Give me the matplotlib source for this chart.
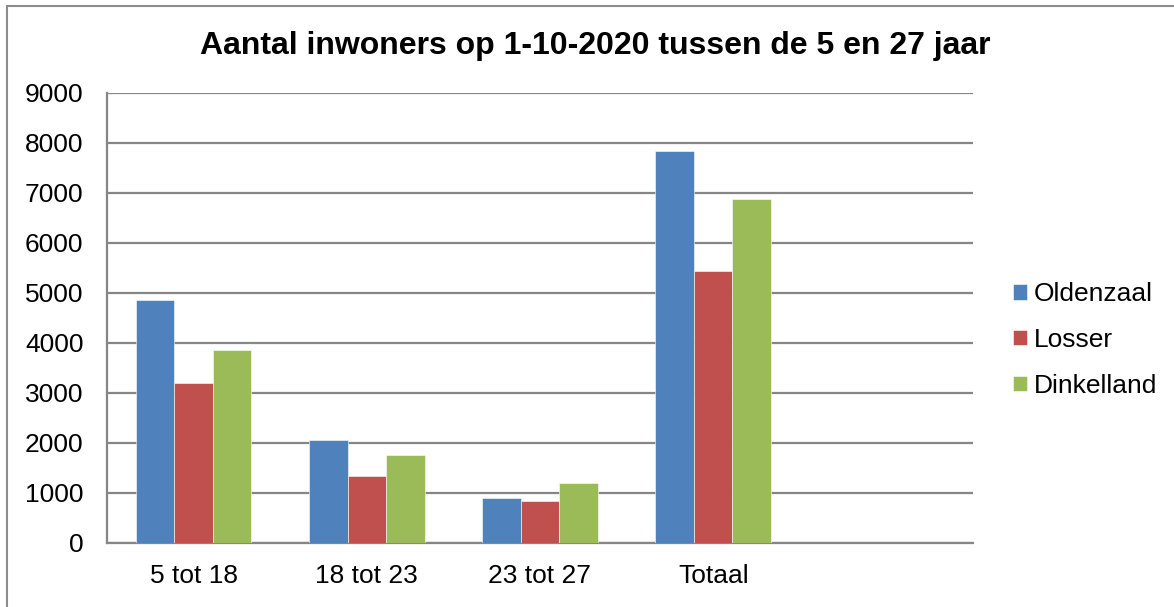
import numpy as np
import matplotlib
matplotlib.use("Agg")
import matplotlib.pyplot as plt
from matplotlib.patches import Rectangle

plt.rcParams['font.family'] = ['Liberation Sans', 'DejaVu Sans']

categories = ["5 tot 18", "18 tot 23", "23 tot 27", "Totaal", ""]
oldenzaal = [4860, 2060, 900, 7850]
losser = [3210, 1350, 850, 5440]
dinkelland = [3870, 1770, 1210, 6890]
series_names = ["Oldenzaal", "Losser", "Dinkelland"]
colors = ["#4F81BD", "#C0504D", "#9BBB59"]
yticks = [0, 1000, 2000, 3000, 4000, 5000, 6000, 7000, 8000, 9000]

fig = plt.figure(figsize=(11.74, 6.07), dpi=100)
ax = fig.add_axes([107/1174, 1 - 543/607, (973 - 107)/1174, (543 - 93)/607])

# outer chart frame (cropped at right and bottom)
fig.patches.append(Rectangle((7/1174, -0.1), 1.2, 1 - 6/607 + 0.1,
                             transform=fig.transFigure, fill=False,
                             edgecolor="#8c8c8c", linewidth=1.5, clip_on=False))

x = np.arange(len(categories))
w = 1 / 4.5
for i, (vals, name, c) in enumerate(zip([oldenzaal, losser, dinkelland], series_names, colors)):
    pos = x[:len(vals)] + (i - 1) * w
    ax.bar(pos, vals, width=w, color=c, edgecolor="#ffffff", linewidth=0.4,
           label=name, zorder=3)

ax.set_xlim(-0.5, len(categories) - 0.5)
ax.set_ylim(0, 9000)
ax.set_yticks(yticks)
ax.set_xticks(x)
ax.set_xticklabels(categories)
ax.tick_params(axis="both", length=0, labelsize=19, colors="black")
ax.tick_params(axis="y", pad=17)
ax.tick_params(axis="x", pad=15)
ax.yaxis.grid(True, color="#868686", linewidth=1.6, zorder=0)
ax.set_axisbelow(True)
for s in ["top", "right"]:
    ax.spines[s].set_visible(False)
for s in ["left", "bottom"]:
    ax.spines[s].set_color("#868686")
    ax.spines[s].set_linewidth(1.6)

fig.text(595/1174, 1 - 46/607, "Aantal inwoners op 1-10-2020 tussen de 5 en 27 jaar",
         ha="center", va="center", fontsize=23, fontweight="bold")

fig.legend(loc="center left", bbox_to_anchor=(1000/1174, 1 - 340/607),
           frameon=False, fontsize=19, handlelength=0.53, handleheight=0.53,
           handletextpad=0.25, labelspacing=0.82, borderpad=0)

fig.savefig("out.png", dpi=100)
